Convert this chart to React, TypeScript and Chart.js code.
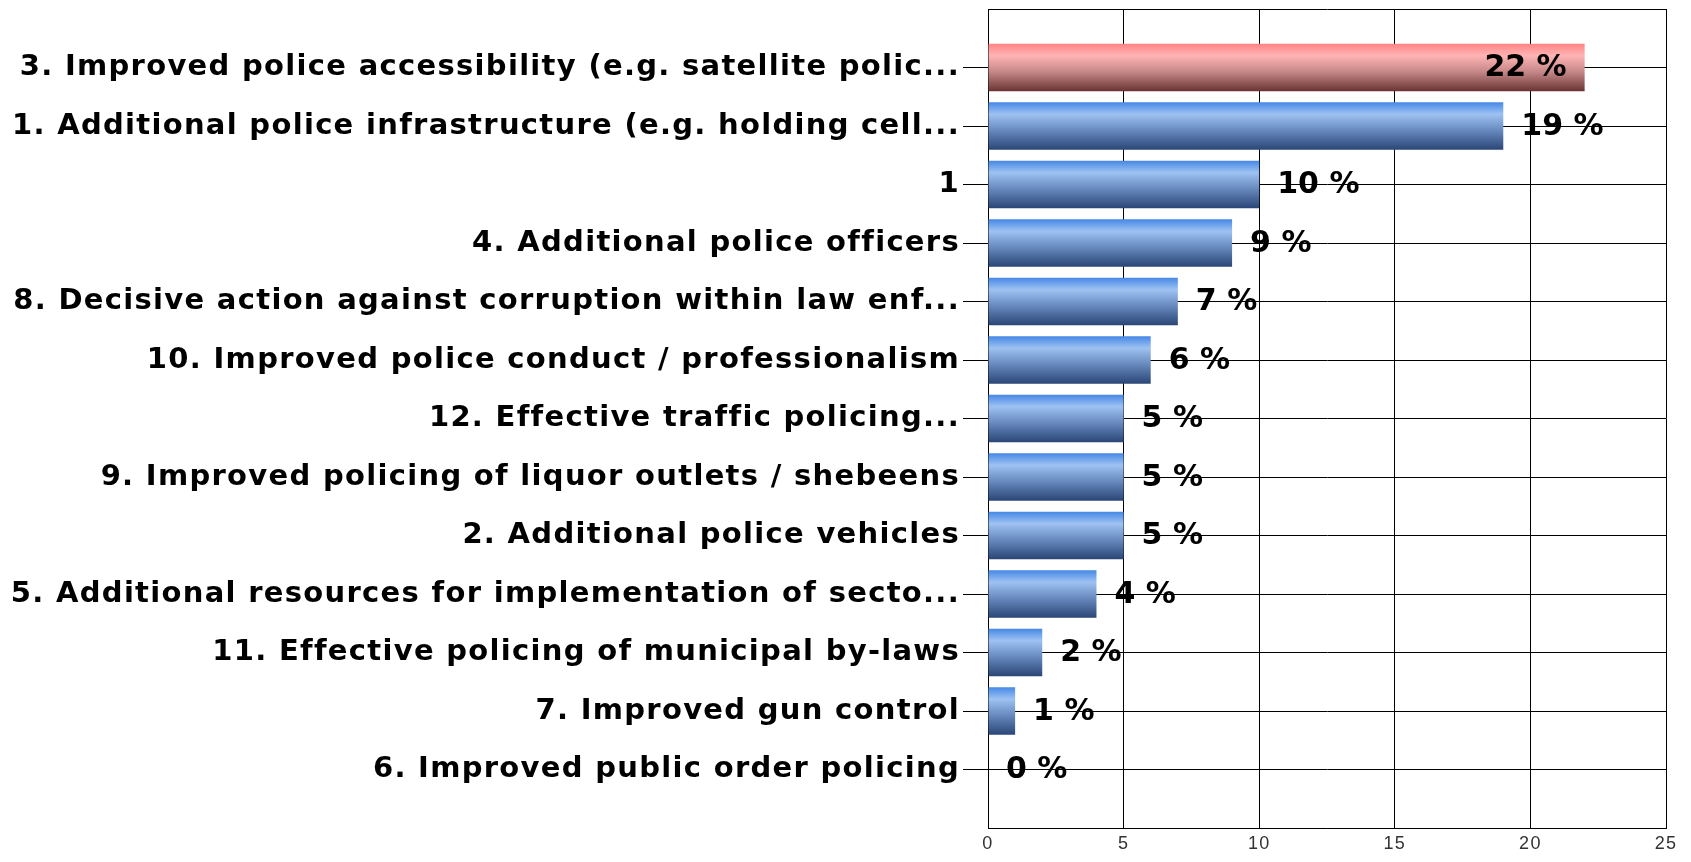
import React, { useEffect, useRef } from "react";
import { Chart, registerables } from "chart.js";

Chart.register(...registerables);

const categories: string[] = [
  "3. Improved police accessibility (e.g. satellite polic...",
  "1. Additional police infrastructure (e.g. holding cell...",
  "1",
  "4. Additional police officers",
  "8. Decisive action against corruption within law enf...",
  "10. Improved police conduct / professionalism",
  "12. Effective traffic policing...",
  "9. Improved policing of liquor outlets / shebeens",
  "2. Additional police vehicles",
  "5. Additional resources for implementation of secto...",
  "11. Effective policing of municipal by-laws",
  "7. Improved gun control",
  "6. Improved public order policing",
];

const percentages: number[] = [22, 19, 10, 9, 7, 6, 5, 5, 5, 4, 2, 1, 0];

const xTicks: number[] = [0, 5, 10, 15, 20, 25];

const highlightIndex = 0;

const FONT = "'DejaVu Sans', Verdana, sans-serif";

export default function App() {
  const ref = useRef<HTMLCanvasElement | null>(null);

  useEffect(() => {
    if (!ref.current) return;
    const labels = ["", ...categories, ""];
    const data: (number | null)[] = [null, ...percentages, null];

    const gradFor = (ctx: any) => {
      const chart = ctx.chart;
      const y = chart.scales?.y;
      const i = ctx.dataIndex;
      const isHi = i - 1 === highlightIndex;
      if (!y || !isFinite(y.getPixelForValue(1))) {
        return isHi ? "#e09090" : "#6a96d8";
      }
      const spacing = Math.abs(y.getPixelForValue(1) - y.getPixelForValue(0));
      const half = (spacing * 0.81) / 2;
      const c = y.getPixelForValue(i);
      const g = chart.ctx.createLinearGradient(0, c - half, 0, c + half);
      if (isHi) {
        g.addColorStop(0, "#ff8484");
        g.addColorStop(0.25, "#ffb4b4");
        g.addColorStop(0.6, "#c48686");
        g.addColorStop(1, "#6a3434");
      } else {
        g.addColorStop(0, "#4688e6");
        g.addColorStop(0.25, "#9ec2f2");
        g.addColorStop(0.6, "#6688bc");
        g.addColorStop(1, "#2a4676");
      }
      return g;
    };

    const spacing = {
      id: "labelSpacing",
      beforeDraw(chart: any) {
        (chart.ctx as any).letterSpacing = "1.3px";
      },
      beforeDatasetsDraw(chart: any) {
        (chart.ctx as any).letterSpacing = "0px";
      },
      afterDraw(chart: any) {
        (chart.ctx as any).letterSpacing = "0px";
      },
    };

    const valueLabels = {
      id: "valueLabels",
      afterDatasetsDraw(chart: any) {
        const meta = chart.getDatasetMeta(0);
        const ctx = chart.ctx;
        ctx.save();
        (ctx as any).letterSpacing = "0px";
        ctx.font = `bold 30px ${FONT}`;
        ctx.fillStyle = "#000";
        ctx.textBaseline = "middle";
        meta.data.forEach((el: any, i: number) => {
          const v = data[i];
          if (v === null || v === undefined) return;
          const text = `${v} %`;
          if (i - 1 === highlightIndex) {
            ctx.textAlign = "right";
            ctx.fillText(text, el.x - 18, el.y + 1);
          } else {
            ctx.textAlign = "left";
            ctx.fillText(text, el.x + 18, el.y + 1);
          }
        });
        ctx.restore();
      },
    };

    const chart = new Chart(ref.current, {
      type: "bar",
      data: {
        labels,
        datasets: [
          {
            data,
            backgroundColor: gradFor,
            borderWidth: 0,
            categoryPercentage: 0.81,
            barPercentage: 1,
          },
        ],
      },
      options: {
        indexAxis: "y",
        responsive: false,
        animation: false,
        layout: { padding: { left: 0, right: 25, top: 9, bottom: 0 } },
        plugins: {
          legend: { display: false },
          tooltip: { enabled: false },
        },
        scales: {
          x: {
            type: "linear",
            min: xTicks[0],
            max: xTicks[xTicks.length - 1],
            afterBuildTicks: (s: any) => {
              s.ticks = xTicks.map((v) => ({ value: v }));
            },
            afterFit: (s: any) => {
              s.height = 34;
              s.paddingLeft = 0;
              s.paddingRight = 0;
            },
            grid: { color: "#000", lineWidth: 1, drawTicks: false },
            border: { color: "#000", width: 1 },
            ticks: {
              color: "#333",
              padding: 5,
              font: { family: "'Liberation Sans Narrow', 'Liberation Sans', Arial, sans-serif", size: 18 },
            },
          },
          y: {
            type: "category",
            offset: false,
            afterFit: (s: any) => {
              s.width = 988;
              s.paddingTop = 0;
              s.paddingBottom = 0;
            },
            grid: {
              offset: false,
              color: "#000",
              lineWidth: 1,
              tickLength: 25,
              tickColor: (c: any) =>
                c.index === 0 || c.index === labels.length - 1 ? "rgba(0,0,0,0)" : "#000",
            },
            border: { color: "#000", width: 1 },
            ticks: {
              color: "#000",
              padding: 3,
              autoSkip: false,
              font: { family: FONT, size: 29, weight: "bold" },
            },
          },
        },
      },
      plugins: [spacing, valueLabels],
    });
    return () => chart.destroy();
  }, []);

  return (
    <div style={{ position: "fixed", left: 0, top: 0, width: 1691, height: 862, background: "#fff" }}>
      <canvas ref={ref} width={1691} height={862} style={{ display: "block" }} />
    </div>
  );
}
